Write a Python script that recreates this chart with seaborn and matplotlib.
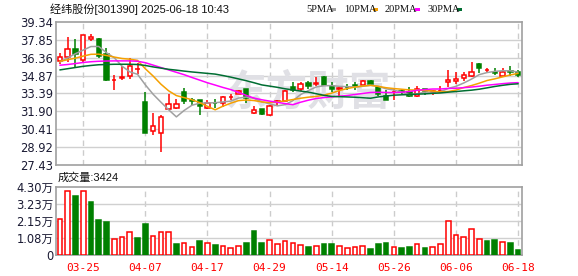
import numpy as np
import pandas as pd
import matplotlib
matplotlib.use("Agg")
import matplotlib.pyplot as plt
import seaborn as sns

# ---------------- data ----------------
dates = ["03-20", "03-21", "03-24", "03-25", "03-26", "03-27", "03-28", "03-31",
         "04-01", "04-02", "04-03", "04-07", "04-08", "04-09", "04-10", "04-11",
         "04-14", "04-15", "04-16", "04-17", "04-18", "04-21", "04-22", "04-23",
         "04-24", "04-25", "04-28", "04-29", "04-30", "05-06", "05-07", "05-08",
         "05-09", "05-12", "05-13", "05-14", "05-15", "05-16", "05-19", "05-20",
         "05-21", "05-22", "05-23", "05-26", "05-27", "05-28", "05-29", "05-30",
         "06-03", "06-04", "06-05", "06-06", "06-09", "06-10", "06-11", "06-12",
         "06-13", "06-16", "06-17", "06-18"]

opens = [36.09, 36.44, 37.07, 36.17, 37.90, 37.90, 36.66, 34.47, 34.70, 34.88,
         35.40, 32.64, 30.28, 30.09, 32.06, 32.14, 33.51, 32.84, 32.83, 32.14,
         32.62, 32.61, 33.08, 33.38, 33.79, 31.73, 32.06, 31.59, 32.70, 32.77,
         33.92, 33.79, 34.25, 34.17, 34.80, 33.98, 33.73, 33.92, 34.06, 34.12,
         34.39, 33.92, 33.16, 33.49, 33.56, 33.51, 33.16, 33.79, 33.52, 33.58,
         34.33, 34.42, 34.69, 34.85, 35.84, 35.35, 35.16, 34.88, 35.23, 35.16]
highs = [36.74, 38.09, 37.90, 38.25, 38.31, 37.98, 37.21, 34.94, 35.70, 36.33,
         35.90, 33.51, 31.73, 31.59, 33.32, 32.91, 33.84, 33.05, 32.85, 32.88,
         32.96, 33.16, 33.38, 33.70, 33.80, 32.33, 32.06, 32.42, 32.88, 33.65,
         34.33, 34.33, 34.39, 34.74, 34.82, 34.33, 34.01, 34.20, 34.33, 34.55,
         34.47, 33.93, 33.65, 33.79, 33.79, 33.92, 33.98, 33.80, 33.65, 33.98,
         35.38, 35.21, 35.16, 35.98, 35.92, 35.51, 35.48, 35.51, 35.70, 35.35]
lows = [35.81, 35.98, 35.57, 35.98, 37.76, 36.33, 34.39, 33.70, 34.55, 34.61,
        35.02, 30.09, 29.95, 28.50, 32.01, 32.06, 32.55, 32.42, 31.59, 32.06,
        32.20, 32.22, 32.83, 33.32, 32.61, 31.65, 31.62, 31.54, 32.36, 32.77,
        33.51, 33.59, 33.73, 33.98, 34.01, 33.51, 33.16, 33.70, 33.65, 34.06,
        34.06, 33.16, 32.83, 32.88, 33.38, 33.10, 33.10, 33.24, 33.24, 33.46,
        33.92, 34.20, 34.42, 34.80, 35.07, 35.07, 34.94, 34.88, 34.88, 34.74]
closes = [36.44, 37.07, 36.66, 38.22, 38.09, 36.47, 34.47, 34.55, 34.75, 35.70,
          35.45, 30.09, 30.64, 31.46, 32.52, 32.48, 32.77, 32.80, 32.33, 32.61,
          32.58, 33.10, 33.13, 33.59, 33.05, 32.01, 31.65, 32.33, 32.73, 33.57,
          33.65, 34.20, 34.01, 34.22, 34.06, 33.73, 33.87, 33.90, 34.03, 34.39,
          34.20, 33.38, 32.88, 33.53, 33.50, 33.16, 33.73, 33.57, 33.58, 33.62,
          34.53, 34.61, 34.96, 35.21, 35.48, 35.38, 35.12, 35.21, 35.18, 34.94]
volumes = [22850, 39880, 36760, 39880, 33020, 21810, 20560, 9760, 11010, 14330,
           10590, 19320, 11630, 14750, 14330, 6850, 7480, 4780, 8720, 7480,
           6230, 5400, 4150, 5400, 7480, 14950, 7480, 9140, 6850, 8720,
           7480, 6020, 4980, 5610, 6850, 6850, 5610, 4150, 4980, 5610,
           3740, 6850, 7480, 4980, 4360, 4980, 6850, 4360, 4780, 6850,
           21190, 12250, 11010, 16200, 9760, 8720, 9350, 8100, 7480, 3424]

# moving-average values at the start of the window (earlier history not shown)
ma5_head = [36.0, 36.35, 36.7, 37.0]
ma10_head = [36.06, 36.2, 36.33, 36.5, 36.65, 36.66, 36.55, 36.42, 36.3]
ma20_head = [35.74, 35.8, 35.88, 35.97, 36.03, 36.07, 36.09, 36.1, 36.1, 36.1,
             36.07, 35.95, 35.75, 35.55, 35.35, 35.15, 34.95, 34.72, 34.5]
ma30_head = [35.35, 35.45, 35.55, 35.65, 35.72, 35.78, 35.8, 35.82, 35.82, 35.82,
             35.8, 35.72, 35.6, 35.5, 35.4, 35.33, 35.25, 35.18, 35.12, 35.06,
             35.0, 34.88, 34.75, 34.6, 34.45, 34.28, 34.1, 34.0, 33.9]

price_ticks = ["27.43", "28.92", "30.41", "31.90", "33.39", "34.87", "36.36", "37.85", "39.34"]
vol_ticks = ["0", "1.08万", "2.15万", "3.23万", "4.30万"]
vol_max = 43000
xtick_dates = ["03-25", "04-07", "04-17", "04-29", "05-14", "05-26", "06-06", "06-18"]

title = "经纬股份[301390] 2025-06-18 10:43"
vol_title = "成交量:3424"
ma_names = ["5PMA", "10PMA", "20PMA", "30PMA"]
ma_colors = ["#a0a0a0", "#f5a000", "#ff00ff", "#006e32"]

# ---------------- build frame ----------------
df = pd.DataFrame({"date": dates, "open": opens, "high": highs, "low": lows,
                   "close": closes, "volume": volumes})
df["i"] = np.arange(len(df))
c = df["close"]
mas = []
for n, head in zip([5, 10, 20, 30], [ma5_head, ma10_head, ma20_head, ma30_head]):
    m = c.rolling(n).mean()
    m.iloc[:len(head)] = head
    mas.append(m)

RED = "#ff0000"
GREEN = "#008000"

sns.set_theme(style="white")
plt.rcParams["font.family"] = ["DejaVu Sans", "Noto Sans CJK SC"]

W, H = 578, 276
fig = plt.figure(figsize=(W / 100, H / 100), dpi=100)
L, R = 56, 522
ax = fig.add_axes([L / W, 1 - 165 / H, (R - L) / W, (165 - 22) / H])
axv = fig.add_axes([L / W, 1 - 255 / H, (R - L) / W, (255 - 186.5) / H])

n = len(df)
for a in (ax, axv):
    a.set_xlim(-0.5, n - 0.5)
    a.set_facecolor("white")
    for s in a.spines.values():
        s.set_color("#a0a0a0")
        s.set_linewidth(1.2)
    a.tick_params(length=0, pad=2)
    a.set_xticks([])
    for d in xtick_dates:
        a.axvline(dates.index(d), color="#cccccc", lw=1, ls=(0, (4, 3)), zorder=0)

# price grid
pt = [float(t) for t in price_ticks]
ax.set_ylim(pt[0], pt[-1])
ax.set_yticks(pt)
ax.set_yticklabels(price_ticks, fontsize=8.3, color="#1a1a33")
for v in pt[1:-1]:
    ax.axhline(v, color="#d0d0d0", lw=1, zorder=0)

# watermark
ax.text(0.54, 0.51, "东方财富", transform=ax.transAxes, fontsize=30,
        fontweight="bold", color="#e0e0e5", ha="center", va="center",
        family=["Noto Sans CJK SC"], zorder=0)

# candles
bw = 0.56
for _, r in df.iterrows():
    up = r["close"] >= r["open"]
    col = RED if up else GREEN
    ax.vlines(r["i"], r["low"], r["high"], color=col, lw=1.1, zorder=2)
    bottom = min(r["open"], r["close"])
    h = max(abs(r["close"] - r["open"]), 0.02)
    ax.bar(r["i"], h, bottom=bottom, width=bw,
           facecolor="white" if up else GREEN, edgecolor=col, lw=1.1, zorder=3)

# moving averages
for m, colr in zip(mas, ma_colors):
    sns.lineplot(x=df["i"], y=m, color=colr, lw=1.1, ax=ax, legend=False, zorder=4)
ax.set_xlabel("")
ax.set_ylabel("")

# volume
vt = np.linspace(0, vol_max, len(vol_ticks))
axv.set_ylim(0, vol_max)
axv.set_yticks(vt)
axv.set_yticklabels(vol_ticks, fontsize=8.3, color="#1a1a33")
for v in vt[1:-1]:
    axv.axhline(v, color="#d0d0d0", lw=1, zorder=0)
prev = c.shift(1).fillna(c.iloc[0] - 1)
for _, r in df.iterrows():
    up = r["close"] >= prev[r["i"]]
    col = RED if up else GREEN
    axv.bar(r["i"], r["volume"], width=0.6, facecolor="white" if up else GREEN,
            edgecolor=col, lw=1.1, zorder=3)
axv.set_xlabel("")
axv.set_ylabel("")

# x labels
for d in xtick_dates:
    axv.text(dates.index(d), -0.12, d, transform=axv.get_xaxis_transform(),
             ha="center", va="top", fontsize=8, color=RED,
             family=["DejaVu Sans Mono"])

# texts
fig.text(50 / W, 1 - 9.5 / H, title, fontsize=8, color="#111111", va="center",
         ha="left", family=["Liberation Sans", "Noto Sans CJK SC"])
fig.text(58 / W, 1 - 178 / H, vol_title, fontsize=8, color="#111111", va="center",
         ha="left", family=["Liberation Sans", "Noto Sans CJK SC"])
lx = [306, 344, 385, 427]
sq = [333, 375, 417, 459]
for name, colr, x0, sx in zip(ma_names, ma_colors, lx, sq):
    fig.text(x0 / W, 1 - 9.5 / H, name, fontsize=7.5, color="#111111",
             va="center", ha="left", family=["Liberation Serif"])
    fig.patches.append(matplotlib.patches.Rectangle(
        ((sx - 2.5) / W, 1 - 11 / H), 5 / W, 3.5 / H,
        transform=fig.transFigure, facecolor=colr, edgecolor="none"))

fig.savefig("out.png", dpi=100, facecolor="white")
